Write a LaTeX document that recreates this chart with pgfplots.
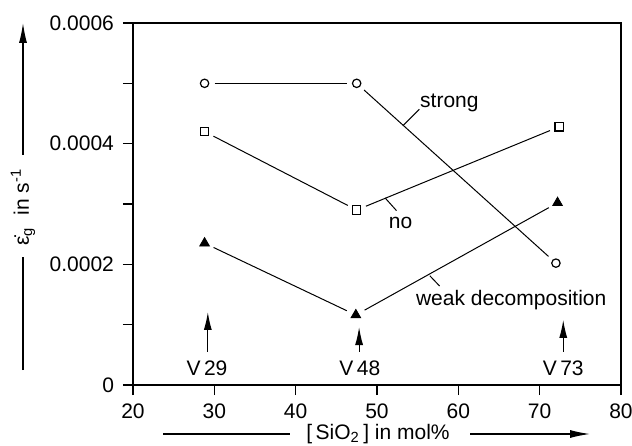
\documentclass[border=0pt]{standalone}
\usepackage{fontspec}
\setmainfont{Liberation Sans}
\usepackage{pgfplots}
\pgfplotsset{compat=1.18}
\usetikzlibrary{arrows.meta}
\begin{document}
\begin{tikzpicture}[font=\fontsize{10.5}{12}\selectfont]
\begin{axis}[
  at={(0,0)}, anchor=south west,
  scale only axis, width=244pt, height=181pt,
  xmin=20, xmax=80, ymin=0, ymax=0.0006,
  xtick={20,30,40,50,60,70,80},
  xticklabels={20,30,40,50,60,70,80},
  ytick={0,0.0001,0.0002,0.0003,0.0004,0.0005,0.0006},
  yticklabels={0,,0.0002,,0.0004,,0.0006},
  scaled y ticks=false, scaled x ticks=false,
  tick align=outside, tick pos=left, major tick length=5pt,
  axis line style={line width=0.8pt},
  every tick/.style={black, line width=0.6pt},
  xticklabel style={yshift=-1pt},
  yticklabel style={xshift=-1pt},
  clip=false,
]
% strong (circles)
\addplot[black, line width=0.5pt, shorten <=5pt, shorten >=5pt] coordinates {(28.8,0.0005) (47.5,0.0005)};
\addplot[black, line width=0.5pt, shorten <=5pt, shorten >=5pt] coordinates {(47.5,0.0005) (72.0,0.000202)};
\addplot[only marks, mark=o, mark size=2.1pt, black, mark options={line width=0.6pt}] coordinates {(28.8,0.0005) (47.5,0.0005) (72.0,0.000202)};
% no (squares)
\addplot[black, line width=0.5pt, shorten <=5pt, shorten >=5pt] coordinates {(28.8,0.00042) (47.5,0.00029)};
\addplot[black, line width=0.5pt, shorten <=5pt, shorten >=5pt] coordinates {(47.5,0.00029) (72.4,0.000428)};
\addplot[only marks, mark=square, mark size=2.1pt, black, mark options={line width=0.6pt}] coordinates {(28.8,0.00042) (47.5,0.00029) (72.4,0.000428)};
% weak decomposition (filled triangles)
\addplot[black, line width=0.5pt, shorten <=5pt, shorten >=5pt] coordinates {(28.8,0.000235) (47.4,0.000116)};
\addplot[black, line width=0.5pt, shorten <=5pt, shorten >=5pt] coordinates {(47.4,0.000116) (72.2,0.000302)};
\addplot[only marks, mark=triangle*, mark size=2.8pt, black] coordinates {(28.8,0.000235) (47.4,0.000116) (72.2,0.000302)};
% annotations
\node at (axis cs:58.9,0.000467) {strong};
\draw[line width=0.5pt] (axis cs:53.2,0.000430) -- (axis cs:55.2,0.000457);
\node at (axis cs:52.9,0.000268) {no};
\draw[line width=0.5pt] (axis cs:51.0,0.000310) -- (axis cs:52.4,0.000289);
\node at (axis cs:66.5,0.000141) {weak decomposition};
\draw[line width=0.5pt] (axis cs:56.5,0.000181) -- (axis cs:57.7,0.000164);
% V markers
\node at (axis cs:29.1,0.0000282) {V\,29};
\node at (axis cs:47.9,0.0000282) {V\,48};
\node at (axis cs:72.9,0.0000282) {V\,73};
\draw[line width=0.6pt, -{Latex[length=9pt,width=4pt]}] (axis cs:29.2,0.0000547) -- (axis cs:29.2,0.000121);
\draw[line width=0.6pt, -{Latex[length=9pt,width=4pt]}] (axis cs:47.8,0.0000547) -- (axis cs:47.8,0.0000961);
\draw[line width=0.6pt, -{Latex[length=9pt,width=4pt]}] (axis cs:72.9,0.0000547) -- (axis cs:72.9,0.000108);
\end{axis}
% y label
\draw[line width=0.6pt] (-55pt,7.5pt) -- (-55pt,64pt);
\node[rotate=90] at (-55pt,89pt) {ε̇\textsubscript{g}\ \ in\ s\textsuperscript{-1}};
\draw[line width=0.6pt, -{Latex[length=10pt,width=4pt]}] (-55pt,115pt) -- (-55pt,181pt);
% x label
\draw[line width=0.6pt] (15pt,-24.5pt) -- (78.5pt,-24.5pt);
\node at (122.5pt,-24.3pt) {[\,SiO\textsubscript{2}\,] in mol\%};
\draw[line width=0.6pt, -{Latex[length=10pt,width=4pt]}] (168.5pt,-24.5pt) -- (228.5pt,-24.5pt);
\pgfresetboundingbox
\path (-66.5pt,-30pt) rectangle (249.5pt,192.5pt);
\end{tikzpicture}
\end{document}
